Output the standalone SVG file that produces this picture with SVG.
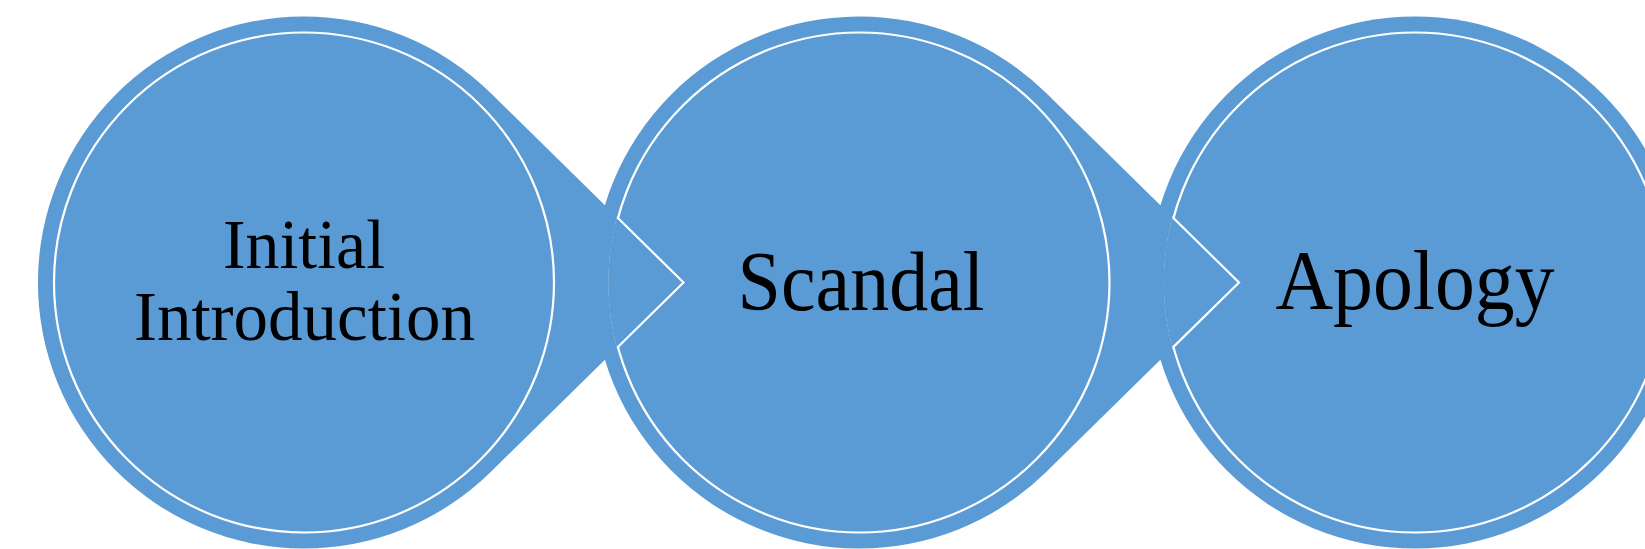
<svg xmlns="http://www.w3.org/2000/svg" width="1645" height="549" viewBox="0 0 1645 549">
<style>
.outer{fill:#5B9BD5;stroke:none}
.inner{fill:#5B9BD5;stroke:#FFFFFF;stroke-width:2.2}
.arrow{fill:#5B9BD5;stroke:#FFFFFF;stroke-width:2.2;stroke-linejoin:miter}
.lbl{font-family:"Liberation Serif","Times New Roman",serif;fill:#000000;text-anchor:middle}
</style>
<defs>
<clipPath id="c2"><circle cx="859.5" cy="282.5" r="251.3"/></clipPath>
<clipPath id="c3"><circle cx="1415" cy="282.5" r="251.3"/></clipPath>
</defs>
<rect width="1645" height="549" fill="#FFFFFF"/>
<g id="node1">
<path class="outer" d="M490.4 92.8 L683.5 282.5 L490.4 472.2 A266 266 0 1 1 490.4 92.8 Z"/>
</g>
<g id="node2">
<path class="outer" d="M1045.9 92.8 L1239 282.5 L1045.9 472.2 A266 266 0 1 1 1045.9 92.8 Z"/>
</g>
<g id="node3">
<circle class="outer" cx="1415" cy="282.5" r="266"/>
</g>
<g id="node1-inner">
<circle class="inner" cx="304" cy="282.5" r="250"/>
<text class="lbl" x="304" y="268" font-size="70" textLength="162" lengthAdjust="spacingAndGlyphs">Initial</text>
<text class="lbl" x="304.5" y="339.5" font-size="70" textLength="341" lengthAdjust="spacingAndGlyphs">Introduction</text>
</g>
<g id="node2-inner">
<circle class="inner" cx="859.5" cy="282.5" r="250"/>
</g>
<g id="node3-inner">
<circle class="inner" cx="1415" cy="282.5" r="250"/>
</g>
<g id="connectors">
<polygon class="arrow" clip-path="url(#c2)" points="490.4,92.8 683.5,282.5 490.4,472.2"/>
<polygon class="arrow" clip-path="url(#c3)" points="1045.9,92.8 1239,282.5 1045.9,472.2"/>
</g>
<g id="labels">
<text class="lbl" x="861" y="310" font-size="85" textLength="247" lengthAdjust="spacingAndGlyphs">Scandal</text>
<text class="lbl" x="1415" y="309" font-size="85" textLength="279" lengthAdjust="spacingAndGlyphs">Apology</text>
</g>
</svg>
